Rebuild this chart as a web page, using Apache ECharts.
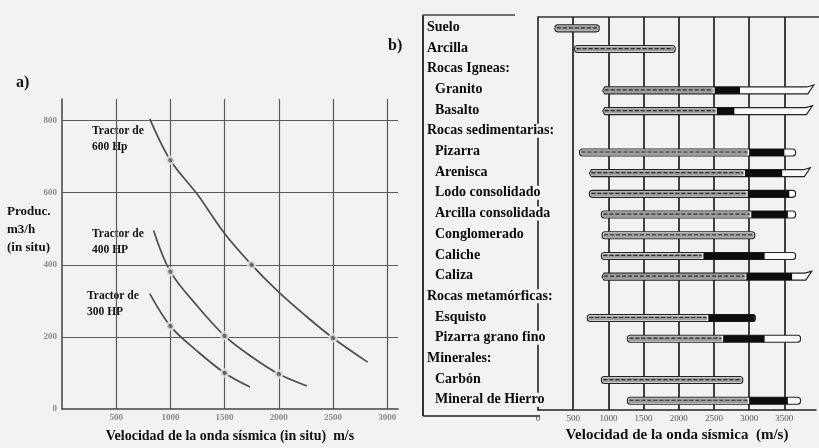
<!DOCTYPE html>
<html>
<head>
<meta charset="utf-8">
<script src="https://cdn.jsdelivr.net/npm/echarts@6/dist/echarts.min.js"></script>
<style>
html,body{margin:0;padding:0;background:#f2f2f2;}
#chart{width:819px;height:448px;}
</style>
</head>
<body>
<div id="chart"></div>
<script>
// ---------- Panel a) production vs seismic velocity ----------
const velTicksA = [0, 500, 1000, 1500, 2000, 2500, 3000];
const prodTicksA = [0, 200, 400, 600, 800];
const tractor600 = [[810,805],[1000,690],[1250,595],[1500,487],[1750,400],[2000,324],[2250,258],[2500,197],[2820,130]];
const tractor400 = [[845,495],[1000,381],[1250,285],[1500,203],[1750,145],[2000,97],[2260,64]];
const tractor300 = [[810,320],[1000,230],[1250,160],[1500,100],[1735,61]];
const marked600 = [1000, 1750, 2500];
const marked400 = [1000, 1500, 2000];
const marked300 = [1000, 1500];
const tractorNames = ['Tractor de\n600 Hp', 'Tractor de\n400 HP', 'Tractor de\n300 HP'];

// ---------- Panel b) seismic velocity ranges ----------
const rowsB = ['Suelo','Arcilla','Rocas Igneas:','Granito','Basalto','Rocas sedimentarias:','Pizarra','Arenisca','Lodo consolidado','Arcilla consolidada','Conglomerado','Caliche','Caliza','Rocas metamórficas:','Esquisto','Pizarra grano fino','Minerales:','Carbón','Mineral de Hierro'];
const startB     = [240, 520, null, 920, 920, null, 590, 730, 730, 900, 910, 900, 910, null, 700, 1270, null, 900, 1270];
const blackFromB = [null, null, null, 2510, 2540, null, 3000, 2940, 2980, 3030, null, 2350, 2960, null, 2420, 2630, null, null, 3000];
const blackToB   = [null, null, null, 2870, 2790, null, 3500, 3470, 3570, 3550, null, 3220, 3610, null, 3080, 3220, null, null, 3550];
const endB       = [870, 1950, null, 3920, 3900, null, 3660, 3870, 3660, 3660, 3080, 3660, 3890, null, 3090, 3730, null, 2910, 3730];
const openEndedB = ['Granito','Basalto','Arenisca','Caliza'];
const velTicksB = [0, 500, 1000, 1500, 2000, 2500, 3000, 3500];

const SERIF = '"Liberation Serif","DejaVu Serif",serif';
const BG = '#f2f2f2';

const chart = echarts.init(document.getElementById('chart'), null, {renderer:'canvas'});

function markedPts(curve, xs){ return curve.filter(p => xs.indexOf(p[0]) >= 0); }

const rangeData = [];
rowsB.forEach((r, i) => {
  if (startB[i] == null) return;
  rangeData.push([i, startB[i], blackFromB[i] == null ? NaN : blackFromB[i], blackToB[i] == null ? NaN : blackToB[i], endB[i], openEndedB.indexOf(r) >= 0 ? 1 : 0]);
});
const firstHead = rowsB.findIndex(r => r.endsWith(':'));

function renderRange(params, api){
  const row = api.value(0);
  const s = api.value(1), bs = api.value(2), be = api.value(3), e = api.value(4), arrow = api.value(5);
  const y = api.coord([0, row])[1] + 1;
  const xs = api.coord([s, row])[0];
  const xe = api.coord([e, row])[0];
  const h = 7;
  const hasBlack = isFinite(bs) && isFinite(be);
  const grayEnd = hasBlack ? api.coord([bs, row])[0] : xe;
  const children = [];
  if (arrow) {
    children.push({type:'polygon', shape:{points:[[xs+2,y-h/2],[xe-7,y-h/2],[xe,y-h/2-2],[xe-6,y+h/2],[xs+2,y+h/2],[xs,y]]},
      style:{fill:'#fafafa', stroke:'#222', lineWidth:1.1}});
  } else {
    children.push({type:'rect', shape:{x:xs, y:y-h/2, width:xe-xs, height:h, r:3},
      style:{fill:'#fafafa', stroke:'#222', lineWidth:1.1}});
  }
  children.push({type:'rect', shape:{x:xs+1, y:y-h/2+1, width:Math.max(0, grayEnd-xs-2), height:h-2, r:2},
    style:{fill:'#9d9d9d'}});
  children.push({type:'line', shape:{x1:xs+2, y1:y-0.5, x2:grayEnd-2, y2:y-0.5},
    style:{stroke:'#2a2a2a', lineWidth:1.2, lineDash:[4,2]}});
  if (hasBlack) {
    const xb1 = api.coord([bs, row])[0], xb2 = api.coord([be, row])[0];
    children.push({type:'rect', shape:{x:xb1, y:y-h/2, width:xb2-xb1, height:h},
      style:{fill:'#0d0d0d'}});
  }
  return {type:'group', children};
}

const lineStyleA = {color:'#4d4d4d', width:1.7};
function curveSeries(data, marked){
  return [{
    type:'line', xAxisIndex:0, yAxisIndex:0, data:data, smooth:0.35, showSymbol:false, symbol:'none',
    lineStyle:lineStyleA, silent:true, z:3
  },{
    type:'scatter', xAxisIndex:0, yAxisIndex:0, data:markedPts(data, marked), symbol:'circle', symbolSize:7,
    itemStyle:{color:'#666', borderColor:'#eaeaea', borderWidth:2.5}, z:4
  }];
}

const option = {
  backgroundColor: BG,
  animation:false,
  grid:[
    {left:62, top:99, width:336, height:311},
    {left:538, top:17, right:0, height:399}
  ],
  xAxis:[
    {gridIndex:0, type:'value', min:0, max:3100, interval:500,
      axisLine:{show:true, onZero:false, lineStyle:{color:'#444', width:1.5}},
      axisTick:{show:false},
      axisLabel:{color:'#888', fontSize:9, fontFamily:SERIF, fontWeight:'bold', margin:4,
        formatter:v => (velTicksA.indexOf(v) > 0 ? String(v) : '')},
      splitLine:{show:true, showMinLine:false, showMaxLine:false, lineStyle:{color:'#5a5a5a', width:1.2}},
      name:'Velocidad de la onda sísmica (in situ)  m/s', nameLocation:'middle', nameGap:20,
      nameTextStyle:{color:'#111', fontSize:14, fontWeight:'bold', fontFamily:SERIF}
    },
    {gridIndex:1, type:'value', min:0, max:3950, interval:500,
      axisLine:{show:true, onZero:false, lineStyle:{color:'#222', width:1.5}},
      axisTick:{show:false},
      axisLabel:{color:'#555', fontSize:9, fontFamily:SERIF, margin:4,
        formatter:v => (velTicksB.indexOf(v) >= 0 ? String(v) : '')},
      splitLine:{show:true, showMinLine:false, showMaxLine:false, lineStyle:{color:'#222', width:1.7}},
      name:'Velocidad de la onda sísmica  (m/s)', nameLocation:'middle', nameGap:16,
      nameTextStyle:{color:'#111', fontSize:15, fontWeight:'bold', fontFamily:SERIF}
    }
  ],
  yAxis:[
    {gridIndex:0, type:'value', min:0, max:860, interval:200,
      axisLine:{show:true, lineStyle:{color:'#444', width:1.5}},
      axisTick:{show:false},
      axisLabel:{color:'#888', fontSize:9, fontFamily:SERIF, fontWeight:'bold', margin:5,
        formatter:v => (prodTicksA.indexOf(v) >= 0 ? String(v) : '')},
      splitLine:{show:true, showMinLine:false, showMaxLine:false, lineStyle:{color:'#5a5a5a', width:1.2}}
    },
    {gridIndex:1, type:'category', data:rowsB, inverse:true,
      axisLine:{show:true, lineStyle:{color:'#222', width:1.6}},
      axisTick:{show:false},
      splitLine:{show:false},
      axisLabel:{align:'left', margin:111, interval:0,
        formatter:(val, idx) => (idx > firstHead && startB[idx] != null) ? '{item|' + val + '}' : '{head|' + val + '}',
        rich:{
          head:{fontFamily:SERIF, fontWeight:'bold', fontSize:14, color:'#0a0a0a', backgroundColor:BG, padding:[0,2,0,0]},
          item:{fontFamily:SERIF, fontWeight:'bold', fontSize:14, color:'#0a0a0a', backgroundColor:BG, padding:[0,2,0,8]}
        }
      }
    }
  ],
  series:[
    ...curveSeries(tractor600, marked600),
    ...curveSeries(tractor400, marked400),
    ...curveSeries(tractor300, marked300),
    {type:'custom', xAxisIndex:1, yAxisIndex:1, renderItem:renderRange, data:rangeData,
      encode:{x:[1,2,3,4], y:0}, z:3}
  ],
  graphic:[
    {type:'text', left:16, top:75, style:{text:'a)', font:'bold 16px ' + SERIF, fill:'#111'}},
    {type:'text', left:388, top:38, style:{text:'b)', font:'bold 16px ' + SERIF, fill:'#111'}},
    {type:'text', left:7, top:203, style:{text:'Produc.\nm3/h\n(in situ)', font:'bold 13px ' + SERIF, fill:'#111', lineHeight:18}},
    {type:'text', left:92, top:123, style:{text:tractorNames[0], font:'bold 11.5px ' + SERIF, fill:'#111', lineHeight:16}},
    {type:'text', left:92, top:226, style:{text:tractorNames[1], font:'bold 11.5px ' + SERIF, fill:'#111', lineHeight:16}},
    {type:'text', left:87, top:288, style:{text:tractorNames[2], font:'bold 11.5px ' + SERIF, fill:'#111', lineHeight:16}},
    {type:'line', shape:{x1:423, y1:15, x2:423, y2:416}, style:{stroke:'#333', lineWidth:2}},
    {type:'line', shape:{x1:423, y1:15, x2:515, y2:15}, style:{stroke:'#444', lineWidth:1.5}},
    {type:'line', shape:{x1:423, y1:416, x2:540, y2:416}, style:{stroke:'#222', lineWidth:1.5}},
    {type:'line', shape:{x1:538, y1:17, x2:819, y2:17}, style:{stroke:'#333', lineWidth:1.5}}
  ]
};
chart.setOption(option);
</script>
</body>
</html>
